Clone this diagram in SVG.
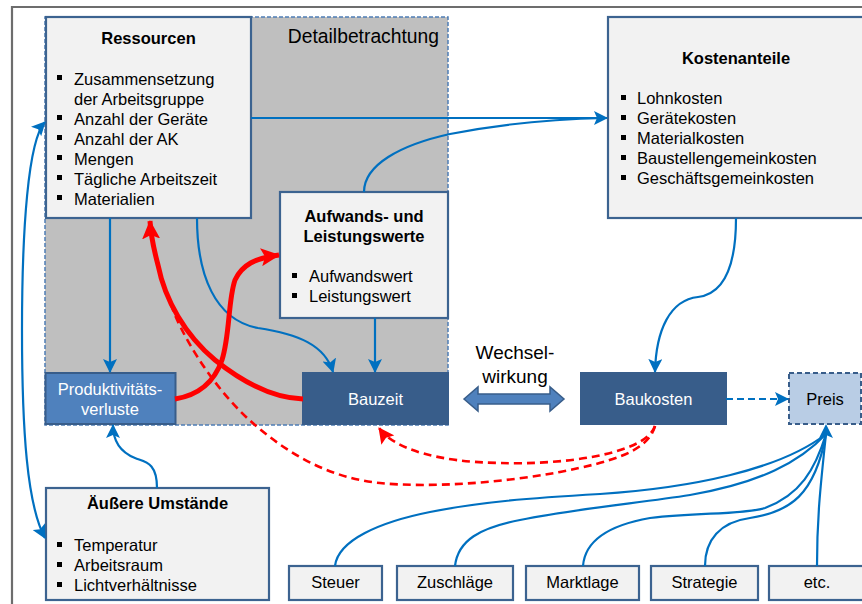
<svg xmlns="http://www.w3.org/2000/svg" width="862" height="604" viewBox="0 0 862 604">
<defs>
<style>
text{font-family:"Liberation Sans",Arial,sans-serif;font-size:16.5px;fill:#000}
.b{font-weight:bold}
.c{text-anchor:middle}
.w{fill:#fff}
.box{fill:#f2f2f2;stroke:#3c6390;stroke-width:2.2}
.dark{fill:#385d8a;stroke:#385d8a;stroke-width:2}
.blu{fill:none;stroke:#0070c0;stroke-width:2.2}
.red{fill:none;stroke:#ff0000;stroke-width:5}
.redd{fill:none;stroke:#ff0000;stroke-width:2.6;stroke-dasharray:8,5}
.bul{fill:#000}
</style>
<marker id="ab" markerUnits="userSpaceOnUse" markerWidth="14" markerHeight="14" refX="13" refY="7" orient="auto-start-reverse" viewBox="0 0 14 14">
<path d="M0,0 L14,7 L0,14 L3,7 z" fill="#0070c0"/>
</marker>
<marker id="ar" markerUnits="userSpaceOnUse" markerWidth="20" markerHeight="18" refX="18" refY="9" orient="auto" viewBox="0 0 20 18">
<path d="M0,0 L19,9 L0,18 L4,9 z" fill="#ff0000"/>
</marker>
<marker id="ard" markerUnits="userSpaceOnUse" markerWidth="16" markerHeight="16" refX="15" refY="8" orient="auto" viewBox="0 0 16 16">
<path d="M0,0 L16,8 L0,16 L3,8 z" fill="#ff0000"/>
</marker>
</defs>

<rect width="862" height="604" fill="#fff"/>
<path d="M12,604 L12,7 L862,7" fill="none" stroke="#6d6d6d" stroke-width="2.2"/>

<g id="detailbetrachtung">
<rect x="45" y="17" width="403" height="408" fill="#bfbfbf" stroke="#4f7db5" stroke-width="1.5" stroke-dasharray="4,2"/>
<text x="439" y="43" style="font-size:19.3px;text-anchor:end">Detailbetrachtung</text>
</g>

<g id="ressourcen">
<rect class="box" x="46" y="17" width="205" height="201"/>
<text class="b c" x="148.5" y="44">Ressourcen</text>
<rect class="bul" x="57" y="75" width="5" height="5"/>
<text x="74" y="84.5">Zusammensetzung</text>
<text x="74" y="104.5">der Arbeitsgruppe</text>
<rect class="bul" x="57" y="115" width="5" height="5"/>
<text x="74" y="124.5">Anzahl der Geräte</text>
<rect class="bul" x="57" y="135" width="5" height="5"/>
<text x="74" y="144.5">Anzahl der AK</text>
<rect class="bul" x="57" y="155" width="5" height="5"/>
<text x="74" y="164.5">Mengen</text>
<rect class="bul" x="57" y="175" width="5" height="5"/>
<text x="74" y="184.5">Tägliche Arbeitszeit</text>
<rect class="bul" x="57" y="195" width="5" height="5"/>
<text x="74" y="204.5">Materialien</text>
</g>

<g id="aufwand">
<rect class="box" x="280" y="192" width="168" height="126"/>
<text class="b c" x="364" y="222">Aufwands- und</text>
<text class="b c" x="364" y="242">Leistungswerte</text>
<rect class="bul" x="292" y="273" width="5" height="5"/>
<text x="309" y="282">Aufwandswert</text>
<rect class="bul" x="292" y="293" width="5" height="5"/>
<text x="309" y="302">Leistungswert</text>
</g>

<g id="kostenanteile">
<rect class="box" x="608" y="17" width="258" height="201"/>
<text class="b c" x="736" y="64">Kostenanteile</text>
<rect class="bul" x="621" y="95" width="5" height="5"/>
<text x="637" y="104">Lohnkosten</text>
<rect class="bul" x="621" y="115" width="5" height="5"/>
<text x="637" y="124">Gerätekosten</text>
<rect class="bul" x="621" y="135" width="5" height="5"/>
<text x="637" y="144">Materialkosten</text>
<rect class="bul" x="621" y="155" width="5" height="5"/>
<text x="637" y="164">Baustellengemeinkosten</text>
<rect class="bul" x="621" y="175" width="5" height="5"/>
<text x="637" y="184">Geschäftsgemeinkosten</text>
</g>

<g id="produktivitaet">
<rect x="45.5" y="373" width="130" height="51" fill="#4f81bd" stroke="#385d8a" stroke-width="2"/>
<text class="c w" x="110" y="395">Produktivitäts-</text>
<text class="c w" x="110" y="415">verluste</text>
</g>

<g id="bauzeit">
<rect class="dark" x="303" y="373" width="145" height="51"/>
<text class="c w" x="375.5" y="405">Bauzeit</text>
</g>

<g id="baukosten">
<rect class="dark" x="581" y="373" width="145" height="51"/>
<text class="c w" x="653.5" y="405">Baukosten</text>
</g>

<g id="preis">
<rect x="789" y="373" width="72" height="51" fill="#b9cde5" stroke="#385d8a" stroke-width="2" stroke-dasharray="5,3"/>
<text class="c" x="825" y="405">Preis</text>
</g>

<g id="aeussere">
<rect class="box" x="46" y="488" width="223" height="112"/>
<text class="b c" x="157.5" y="509">Äußere Umstände</text>
<rect class="bul" x="57" y="542" width="5" height="5"/>
<text x="74" y="551">Temperatur</text>
<rect class="bul" x="57" y="562" width="5" height="5"/>
<text x="74" y="571">Arbeitsraum</text>
<rect class="bul" x="57" y="582" width="5" height="5"/>
<text x="74" y="591">Lichtverhältnisse</text>
</g>

<g id="steuer"><rect class="box" x="289" y="566" width="93" height="34"/><text class="c" x="335.5" y="588">Steuer</text></g>
<g id="zuschlaege"><rect class="box" x="397" y="566" width="116" height="34"/><text class="c" x="455" y="588">Zuschläge</text></g>
<g id="marktlage"><rect class="box" x="526" y="566" width="113" height="34"/><text class="c" x="582.5" y="588">Marktlage</text></g>
<g id="strategie"><rect class="box" x="651" y="566" width="107" height="34"/><text class="c" x="704.5" y="588">Strategie</text></g>
<g id="etc"><rect class="box" x="769" y="566" width="97" height="34"/><text class="c" x="817" y="588">etc.</text></g>

<g id="wechselwirkung">
<text class="c" x="515" y="359" style="font-size:19px">Wechsel-</text>
<text class="c" x="515" y="383" style="font-size:19px">wirkung</text>
<polygon points="464,399 478,387 478,394 550,394 550,387 564,399 550,411 550,404 478,404 478,411" fill="#4f81bd" stroke="#385d8a" stroke-width="1.5"/>
</g>

<g id="connectors">
<path class="blu" d="M251,118 L607,118" marker-end="url(#ab)"/>
<path class="blu" d="M364,192 C364,165 400,145 450,134 C510,122 560,119 606,118"/>
<path class="blu" d="M110,218 L110,372" marker-end="url(#ab)"/>
<path class="blu" d="M197,218 C197,275 215,320 258,328 C298,334 325,345 333,372" marker-end="url(#ab)"/>
<path class="blu" d="M375,318 L375,372" marker-end="url(#ab)"/>
<path class="blu" d="M736,218 C736,270 722,294 698,297 C670,300 656,330 655,372" marker-end="url(#ab)"/>
<path class="blu" d="M45,122 C28,140 22,230 22,330 C22,430 27,505 45,538" marker-start="url(#ab)" marker-end="url(#ab)"/>
<path class="blu" d="M157,488 C157,462 145,462 135,458 C120,452 113,440 113,425" marker-end="url(#ab)"/>
<path class="blu" d="M726,399 L788,399" stroke-dasharray="7,4" marker-end="url(#ab)"/>
<path class="blu" d="M335,566 C338,540 380,522 430,512 C480,502 530,498 600,494 C690,488 780,470 826,434"/>
<path class="blu" d="M455,566 C458,540 480,528 520,520 C580,508 640,503 690,495 C760,483 800,462 826,434"/>
<path class="blu" d="M583,566 C585,540 610,525 650,518 C700,512 740,515 765,508 C800,495 815,470 826,434"/>
<path class="blu" d="M705,566 C705,540 720,522 750,518 C790,512 815,495 826,434"/>
<path class="blu" d="M817,566 C817,520 820,490 826,434"/>
<path d="M826,424 L833,438 L826,435 L819,438 z" fill="#0070c0"/>
<path class="redd" d="M655,426 C648,452 610,462 560,472 C500,483 430,488 380,483 C330,478 290,455 255,425 C220,395 190,350 175,315 C167,295 160,275 156,255"/>
<path class="redd" d="M655,426 C645,455 560,465 500,463 C440,462 395,450 379,428" marker-end="url(#ard)"/>
<path class="red" d="M303,399 C270,398 240,380 215,360 C185,335 165,300 158,265 C154,250 151,238 150,221" marker-end="url(#ar)"/>
<path class="red" d="M175,399 C200,395 215,380 222,360 C230,335 228,300 235,280 C242,265 255,258 279,255" marker-end="url(#ar)"/>
</g>
</svg>
